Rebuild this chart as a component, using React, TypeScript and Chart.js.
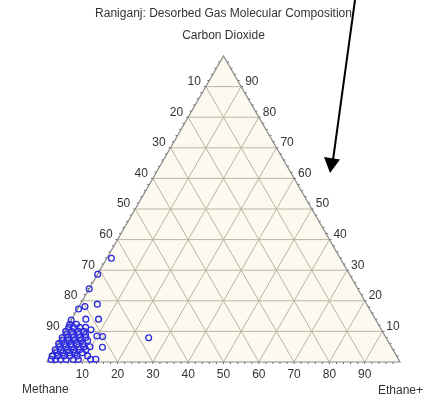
import React, { useEffect, useRef } from "react";
import { Chart, registerables } from "chart.js";

Chart.register(...registerables);

const TITLE = "Raniganj: Desorbed Gas Molecular Composition";
const APEX_LABEL = "Carbon Dioxide";
const LEFT_LABEL = "Methane";
const RIGHT_LABEL = "Ethane+";

const GRID_STEPS = [10, 20, 30, 40, 50, 60, 70, 80, 90];

// Sample composition, percent (methane = 100 - CO2 - ethane+)
const co2Pct = [
  0.8, 0.8, 0.8, 0.8, 0.8, 0.8, 0.9, 0.9,
  2, 2, 2, 2, 2, 2,
  3, 3, 3, 3, 3,
  4, 4, 4, 4, 4, 4,
  5, 5, 5, 5, 5, 5, 4.8,
  6, 6, 6, 6, 6,
  7, 7, 7, 7, 7,
  8, 8, 8, 8, 8, 8.5, 8.3,
  9, 9, 9, 9,
  10, 10, 10, 10, 10.5,
  11.3, 11.3, 11.3, 11.3,
  12.3, 12.3,
  13.7, 14, 14,
  17.3, 18.1, 18.9,
  23.9, 28.7, 33.9,
  7.9,
];
const ethanePct = [
  0.8, 2, 3.5, 5, 7, 8.5, 11.9, 13.4,
  0.5, 2, 3.8, 5.5, 7.5, 10.5,
  1.2, 3, 4.8, 6.5, 8.5,
  0.3, 2, 3.8, 5.5, 7.2, 9,
  1, 2.8, 4.5, 6.5, 8, 9.7, 13.3,
  0.3, 2, 3.8, 5.5, 7.2,
  0.8, 2.6, 4.3, 6.1, 8,
  0.3, 2, 3.5, 5.3, 7, 9.9, 11.6,
  1, 2.7, 4.5, 6.4,
  0.3, 2, 3.9, 5.5, 7.2,
  0.5, 1.8, 3.6, 5.3,
  0.3, 2.2,
  0, 4, 7.6,
  0.3, 1.7, 4.8,
  0, 0, 1.3,
  24.85,
];

const SQ3_2 = Math.sqrt(3) / 2;

// Ternary (CO2 at apex, ethane+ to the right) to cartesian data space
const toXY = (co2: number, eth: number) => ({ x: eth + co2 / 2, y: co2 * SQ3_2 });

const FONT = '12px "Liberation Sans", Arial, sans-serif';
const TEXT = "#333333";

const ternaryPlugin = {
  id: "ternaryFrame",
  beforeDatasetsDraw(chart: any) {
    const { ctx, scales } = chart;
    const xs = scales.x;
    const ys = scales.y;
    const P = (co2: number, eth: number) => {
      const d = toXY(co2, eth);
      return [xs.getPixelForValue(d.x), ys.getPixelForValue(d.y)];
    };
    const line = (a: number[], b: number[]) => {
      ctx.beginPath();
      ctx.moveTo(a[0], a[1]);
      ctx.lineTo(b[0], b[1]);
      ctx.stroke();
    };
    const L = P(0, 0);
    const R = P(0, 100);
    const T = P(100, 0);

    ctx.save();
    // triangle fill
    ctx.fillStyle = "#fcf9ee";
    ctx.beginPath();
    ctx.moveTo(L[0], L[1]);
    ctx.lineTo(R[0], R[1]);
    ctx.lineTo(T[0], T[1]);
    ctx.closePath();
    ctx.fill();

    // grid
    ctx.strokeStyle = "#bcb4a4";
    ctx.lineWidth = 1;
    for (const k of GRID_STEPS) {
      line(P(k, 0), P(k, 100 - k));
      line(P(0, k), P(100 - k, k));
      line(P(0, 100 - k), P(100 - k, 0));
    }

    // small ticks along the edges
    ctx.strokeStyle = "#666666";
    for (let v = 2; v < 100; v += 2) {
      const a = P(0, v);
      line(a, [a[0], a[1] + 2]);
      const b = P(v, 0);
      line(b, [b[0] - 2, b[1]]);
      const c = P(v, 100 - v);
      line(c, [c[0] + 2, c[1]]);
    }

    // outline
    ctx.strokeStyle = "#8a8a8a";
    ctx.lineWidth = 1.2;
    ctx.beginPath();
    ctx.moveTo(L[0], L[1]);
    ctx.lineTo(R[0], R[1]);
    ctx.lineTo(T[0], T[1]);
    ctx.closePath();
    ctx.stroke();

    // tick labels
    ctx.font = FONT;
    ctx.fillStyle = TEXT;
    ctx.textBaseline = "middle";
    for (const k of GRID_STEPS) {
      const lp = P(k, 0);
      ctx.textAlign = "right";
      ctx.fillText(String(100 - k), lp[0] - 5, lp[1] - 5);
      const rp = P(k, 100 - k);
      ctx.textAlign = "left";
      ctx.fillText(String(k), rp[0] + 4, rp[1] - 5);
      const bp = P(0, k);
      ctx.textAlign = "center";
      ctx.fillText(String(k), bp[0], bp[1] + 13);
    }

    // vertex names and title
    ctx.textAlign = "left";
    ctx.fillText(LEFT_LABEL, L[0] - 25, L[1] + 28);
    ctx.textAlign = "right";
    ctx.fillText(RIGHT_LABEL, R[0] + 23, R[1] + 29);
    ctx.textAlign = "center";
    ctx.fillText(APEX_LABEL, T[0], T[1] - 20);
    ctx.fillText(TITLE, T[0], T[1] - 42);
    ctx.restore();
  },
  afterDraw(chart: any) {
    const { ctx } = chart;
    // pointer arrow
    ctx.save();
    ctx.strokeStyle = "#000000";
    ctx.fillStyle = "#000000";
    ctx.lineWidth = 2;
    ctx.beginPath();
    ctx.moveTo(355, 0);
    ctx.lineTo(333, 160);
    ctx.stroke();
    ctx.beginPath();
    ctx.moveTo(324, 157);
    ctx.lineTo(340, 159.5);
    ctx.lineTo(330, 173);
    ctx.closePath();
    ctx.fill();
    ctx.restore();
  },
};

export default function App() {
  const ref = useRef<HTMLCanvasElement | null>(null);

  useEffect(() => {
    document.body.style.margin = "0";
    const canvas = ref.current;
    if (!canvas) return;
    const points = co2Pct.map((c, i) => toXY(c, ethanePct[i]));
    const chart = new Chart(canvas, {
      type: "scatter",
      data: {
        datasets: [
          {
            data: points,
            pointStyle: "circle",
            pointRadius: 2.9,
            pointBorderWidth: 1.3,
            pointBorderColor: "#2a2ae0",
            pointBackgroundColor: "rgba(0,0,0,0)",
            clip: false,
          } as any,
        ],
      },
      options: {
        responsive: false,
        animation: false,
        devicePixelRatio: 1,
        layout: { padding: { left: 47, right: 28, top: 56, bottom: 39 } },
        scales: {
          x: { type: "linear", min: 0, max: 100, display: false },
          y: { type: "linear", min: 0, max: 50 * Math.sqrt(3), display: false },
        },
        plugins: {
          legend: { display: false },
          tooltip: { enabled: false },
          title: { display: false },
        },
      },
      plugins: [ternaryPlugin],
    });
    return () => chart.destroy();
  }, []);

  return <canvas ref={ref} width={428} height={401} style={{ display: "block" }} />;
}
